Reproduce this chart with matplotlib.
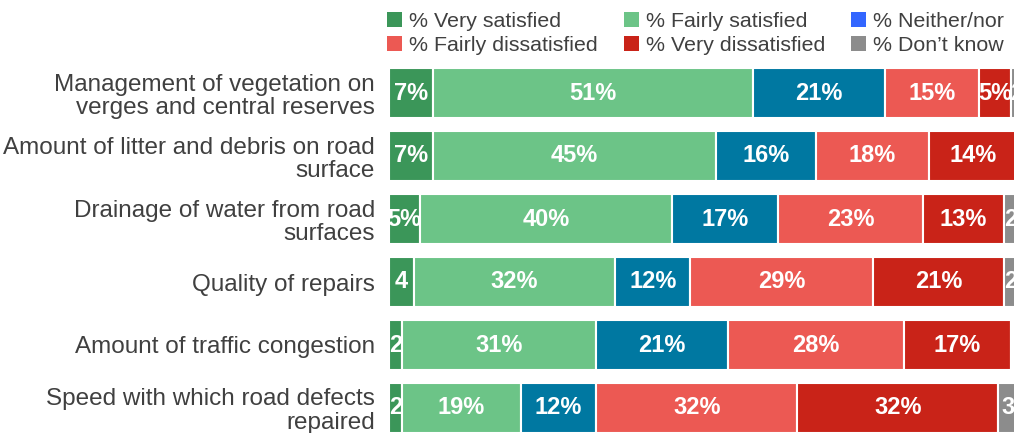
import numpy as np
import matplotlib.pyplot as plt
from matplotlib.patches import Patch

plt.rcParams['font.family'] = ['Liberation Sans', 'DejaVu Sans']

categories = [
    "Management of vegetation on\nverges and central reserves",
    "Amount of litter and debris on road\nsurface",
    "Drainage of water from road\nsurfaces",
    "Quality of repairs",
    "Amount of traffic congestion",
    "Speed with which road defects\nrepaired",
]
series_names = ["% Very satisfied", "% Fairly satisfied", "% Neither/nor",
                "% Fairly dissatisfied", "% Very dissatisfied", "% Don\u2019t know"]
very_sat = [7, 7, 5, 4, 2, 2]
fairly_sat = [51, 45, 40, 32, 31, 19]
neither = [21, 16, 17, 12, 21, 12]
fairly_dis = [15, 18, 23, 29, 28, 32]
very_dis = [5, 14, 13, 21, 17, 32]
dont_know = [2, 0, 2, 2, 0, 3]

bar_colors = ["#3b9659", "#6cc487", "#0078a1", "#ec5953", "#c92318", "#8c8c8c"]
legend_colors = ["#3b9659", "#6cc487", "#3366ff", "#ec5953", "#c92318", "#8c8c8c"]

series = [very_sat, fairly_sat, neither, fairly_dis, very_dis, dont_know]

fig = plt.figure(figsize=(10.14, 4.33), dpi=100)
ax = fig.add_axes([389 / 1014, 1 - 439.5 / 433, 6.28 * 102 / 1014, 378 / 433])

y = np.arange(len(categories))
left = np.zeros(len(categories))
for vals, col in zip(series, bar_colors):
    vals = np.array(vals, dtype=float)
    ax.barh(y, vals, left=left, height=0.8, color=col, edgecolor='white', linewidth=1.5)
    for yi, (l, v) in enumerate(zip(left, vals)):
        if v <= 0:
            continue
        txt = f"{int(v)}%" if v >= 5 else f"{int(v)}"
        ax.text(l + v / 2, yi, txt, ha='center', va='center', color='white',
                fontsize=17, fontweight='bold', clip_on=True)
    left += vals

ax.set_xlim(0, 102)
ax.set_ylim(len(categories) - 0.5, -0.5)
ax.set_yticks(y)
ax.set_yticklabels(categories, fontsize=17.5, color='#404040', linespacing=1.1)
ax.tick_params(axis='y', length=0, pad=10)
ax.set_xticks([])
for s in ax.spines.values():
    s.set_visible(False)

order = [0, 3, 1, 4, 2, 5]
handles = [Patch(facecolor=legend_colors[i], label=series_names[i]) for i in order]
fig.legend(handles=handles, loc='upper left', bbox_to_anchor=(368 / 1014, 1.017), ncol=3,
           frameon=False, fontsize=15.4, handlelength=0.7, handleheight=0.7,
           handletextpad=0.33, columnspacing=1.2, labelspacing=0.22, labelcolor='#404040')

fig.savefig("out.png", dpi=100)
